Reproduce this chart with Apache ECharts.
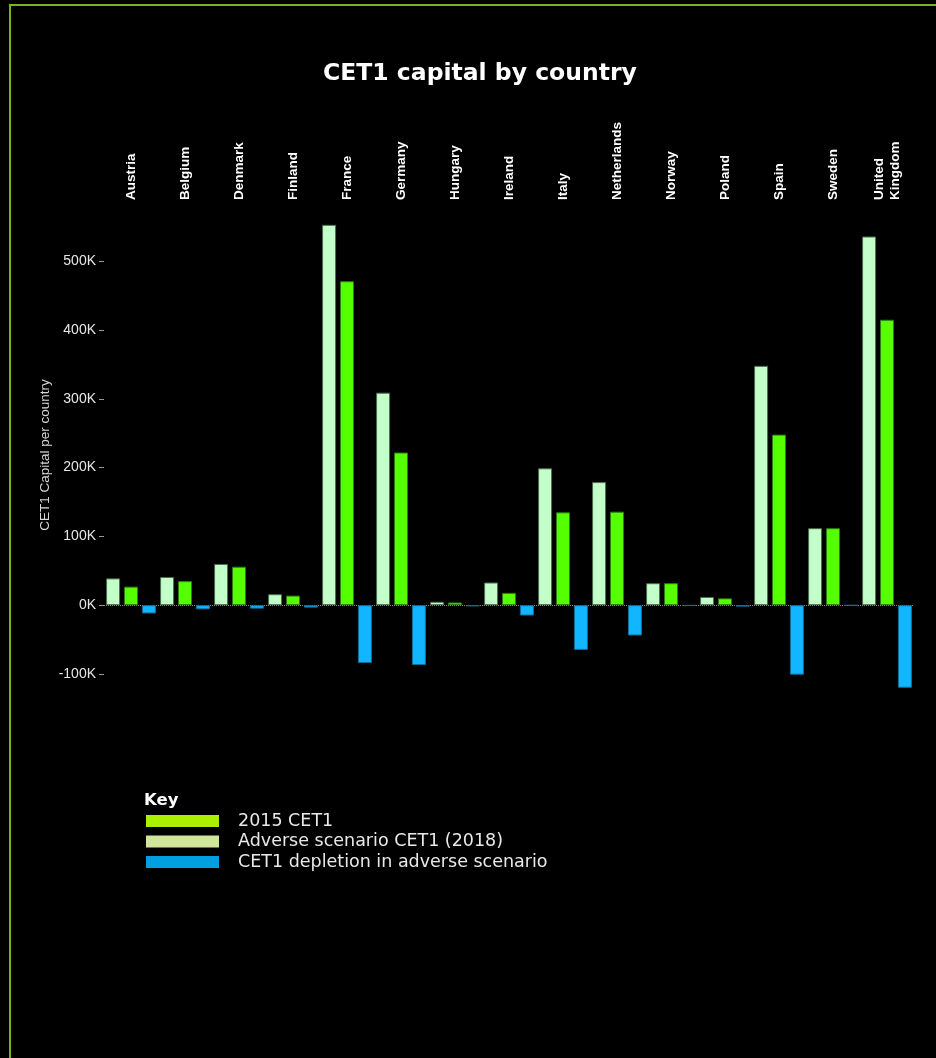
<!DOCTYPE html>
<html>
<head>
<meta charset="utf-8">
<script src="https://cdn.jsdelivr.net/npm/echarts@6/dist/echarts.min.js"></script>
<style>
html,body{margin:0;padding:0;background:#000;}
#chart{width:936px;height:1058px;}
</style>
</head>
<body>
<div id="chart"></div>
<script>
const countries = ['Austria','Belgium','Denmark','Finland','France','Germany','Hungary','Ireland','Italy','Netherlands','Norway','Poland','Spain','Sweden','United\nKingdom'];
const cet1_2015 = [39000, 41000, 60000, 16000, 553000, 309000, 5000, 33000, 199000, 179000, 32000, 12000, 348000, 112000, 536000];
const cet1_adverse = [27000, 35000, 56000, 14000, 471000, 222000, 4000, 18000, 135000, 136000, 32000, 10000, 248000, 112000, 415000];
const cet1_depletion = [-12000, -6000, -5000, -3500, -84000, -87000, -1500, -15000, -65000, -44000, -600, -2000, -101000, -400, -120000];
const yTicks = [-100000, 0, 100000, 200000, 300000, 400000, 500000];
const seriesNames = ['2015 CET1', 'Adverse scenario CET1 (2018)', 'CET1 depletion in adverse scenario'];

const chart = echarts.init(document.getElementById('chart'));
const barBase = {type: 'bar', barWidth: 14, barGap: '28%', clip: false};
chart.setOption({
  backgroundColor: '#000',
  animation: false,
  title: {
    text: 'CET1 capital by country',
    left: 323, top: 62, padding: 0,
    textStyle: {color: '#fff', fontFamily: 'DejaVu Sans', fontWeight: 'bold', fontSize: 23.5}
  },
  grid: {left: 104, right: 22, top: 220, height: 454},
  xAxis: {
    type: 'category', data: countries, position: 'top',
    axisLine: {show: false}, axisTick: {show: false},
    axisLabel: {rotate: 90, margin: 20, color: '#fff', fontFamily: 'Liberation Sans', fontWeight: 'bold', fontSize: 13.5, lineHeight: 16}
  },
  yAxis: {
    type: 'value', min: -100000, max: 560000,
    axisLine: {show: false},
    axisTick: {show: true, length: 5, customValues: yTicks, lineStyle: {color: '#999'}},
    axisLabel: {customValues: yTicks, margin: 8, color: '#e6e6e6', fontFamily: 'Liberation Sans', fontSize: 14,
      formatter: v => (v / 1000) + 'K'},
    splitLine: {show: false}
  },
  legend: {
    orient: 'vertical', left: 146, top: 812, padding: 0,
    itemWidth: 73, itemHeight: 12, itemGap: 2.5,
    icon: 'rect',
    textStyle: {color: '#e8e8e8', fontFamily: 'DejaVu Sans', fontSize: 17.5, lineHeight: 16, padding: [0, 0, 0, 14]},
    itemStyle: {borderWidth: 0},
    data: [
      {name: seriesNames[0], itemStyle: {color: '#aaf000', borderWidth: 0}},
      {name: seriesNames[1], itemStyle: {color: '#d0e69a', borderWidth: 0}},
      {name: seriesNames[2], itemStyle: {color: '#00a0e0', borderWidth: 0}}
    ]
  },
  graphic: [
    {type: 'rect', shape: {x: 10, y: 5, width: 1000, height: 1200}, style: {fill: 'none', stroke: '#78b41e', lineWidth: 2}, silent: true},
    {type: 'text', x: 45, y: 455, rotation: Math.PI / 2,
      style: {text: 'CET1 Capital per country', fill: '#d8d8d8', font: '13.5px "Liberation Sans"', align: 'center', verticalAlign: 'middle'}},
    {type: 'text', x: 144, y: 801,
      style: {text: 'Key', fill: '#fff', font: 'bold 16.5px "DejaVu Sans"', align: 'left', verticalAlign: 'middle'}}
  ],
  series: [
    Object.assign({}, barBase, {name: seriesNames[0], data: cet1_2015, itemStyle: {color: '#c3ffc8', borderColor: '#4d6b50', borderWidth: 1}}),
    Object.assign({}, barBase, {name: seriesNames[1], data: cet1_adverse, itemStyle: {color: '#55ff00', borderColor: '#2d7a10', borderWidth: 1}}),
    Object.assign({}, barBase, {name: seriesNames[2], data: cet1_depletion, itemStyle: {color: '#12b6ff', borderColor: '#0b6f9c', borderWidth: 1},
      markLine: {silent: true, symbol: 'none', label: {show: false}, z: 1,
        lineStyle: {color: '#888', type: 'dotted', width: 1}, data: [{yAxis: 0}]}})
  ]
});
</script>
</body>
</html>
